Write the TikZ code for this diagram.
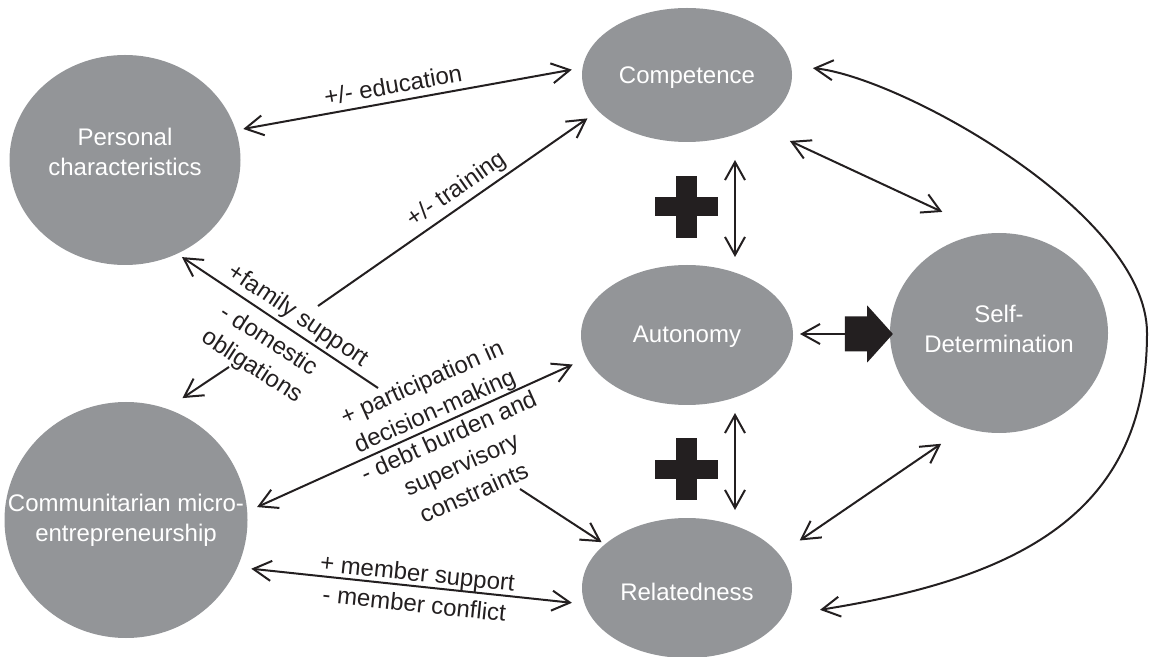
\documentclass[tikz,border=0pt]{standalone}
\usepackage{fontspec}
\setmainfont{Liberation Sans}
\usepackage{tikz}
\usetikzlibrary{shapes.geometric, shapes.arrows, arrows.meta}
\definecolor{blobgray}{RGB}{147,149,152}
\definecolor{ink}{RGB}{35,31,32}

\begin{document}
\begin{tikzpicture}[x = .5pt, y = -.5pt, color = ink, line width = 1pt,
    >={Straight Barb[length = 9pt, width = 10pt]},
    blob/.style = {ellipse, fill = blobgray, inner sep = 0pt, outer sep = 0pt},
    blobtext/.style = {text = white, align = center, font = \fontsize{12}{15}\selectfont},
    lbl/.style = {align = center, inner sep = 0pt, font = \fontsize{12}{15.5}\selectfont}]
    \useasboundingbox (0,0) rectangle (1156,657);

    \node[blob, minimum width = 115.5pt, minimum height = 105pt, label = {[blobtext, yshift = 4pt]center:Personal\\characteristics}] (pers) at (125,160) {};
    \node[blob, minimum width = 121.5pt, minimum height = 118pt, label = {[blobtext]center:Communitarian micro-\\entrepreneurship}] (comm) at (126,520) {};
    \node[blob, minimum width = 105pt, minimum height = 67pt, label = {[blobtext, yshift = -1.5pt]center:Competence}] (comp) at (687,75) {};
    \node[blob, minimum width = 106pt, minimum height = 70pt, label = {[blobtext, yshift = -1pt]center:Autonomy}] (auto) at (687,335) {};
    \node[blob, minimum width = 105pt, minimum height = 70pt, label = {[blobtext, yshift = -2pt]center:Relatedness}] (rel) at (687,588) {};
    \node[blob, minimum width = 109pt, minimum height = 100pt, label = {[blobtext, yshift = 2pt]center:Self-\\Determination}] (sd) at (999,333) {};

    \node[single arrow, fill = ink, inner xsep = 0pt, inner ysep = 8.25pt, outer sep = 0pt, minimum height = 24pt,
        single arrow head extend = 5.5pt, single arrow tip angle = 96] (blk) at (861,334) {};
    \foreach \py in {207, 469} {
        \fill (655,\py-9.5) rectangle (718,\py+9.5);
        \fill (676,\py-31) rectangle (697,\py+31);
    }

    \coordinate (trn) at (318,306);
    \coordinate (fam) at (378,388);
    \coordinate (dom) at (229,367);
    \coordinate (cst) at (520,489);

    \draw[<->, shorten < = 3.8pt, shorten > = 5.5pt] (pers.15) -- (comp.176);
    \draw[->, shorten > = 6.6pt] (trn) -- (comp.202);
    \draw[->, shorten > = 3pt] (fam) -- (pers.299);
    \draw[->, shorten > = 9.6pt] (dom) -- (comm.70);
    \draw[<->, shorten < = 5.4pt, shorten > = 7.8pt] (comm.4) -- (auto.193);
    \draw[->, shorten > = 2pt] (cst) -- (rel.152);
    \draw[<->, shorten < = 7pt, shorten > = 6.5pt] (comm.337) -- (rel.189);
    \draw[<->, shorten < = 9pt, shorten > = 4pt] ([xshift = 24pt]comp.south) -- ([xshift = 24pt]auto.north);
    \draw[<->, shorten < = 4pt, shorten > = 4pt] ([xshift = 24pt]auto.south) -- ([xshift = 24pt]rel.north);
    \draw[->, shorten > = 3.5pt] (blk.tail) -- (auto.east |- blk.tail);
    \draw[<->, shorten < = 18.5pt, shorten > = 25.5pt] (comp.324) -- (sd.96);
    \draw[<->, shorten < = 12.4pt, shorten > = 14.1pt] (rel.20) -- (sd.250);
    \draw[<->, shorten < = 11pt, shorten > = 18.5pt] (comp.5) .. controls (900,77) and (1147,213) .. (1147,333)
        .. controls (1147,513) and (1020,578) .. (rel.344);

    \node[lbl, rotate = 10] (edulbl) at (393,85) {+/- education};
    \node[lbl, rotate = 35] (trnlbl) at (457,190) {+/- training};
    \node[lbl, rotate = -34] (famlbl) at (298,316) {+family support};
    \node[lbl, rotate = -33] (domlbl) at (260,354) {- domestic\\obligations};
    \node[lbl, rotate = 24] (partlbl) at (429,398) {+ participation in\\decision-making};
    \node[lbl, rotate = 24] (debtlbl) at (461,464) {- debt burden and\\supervisory\\constraints};
    \node[lbl, rotate = -6] (memlbl) at (416,588) {+ member support\\- member conflict};
\end{tikzpicture}
\end{document}
